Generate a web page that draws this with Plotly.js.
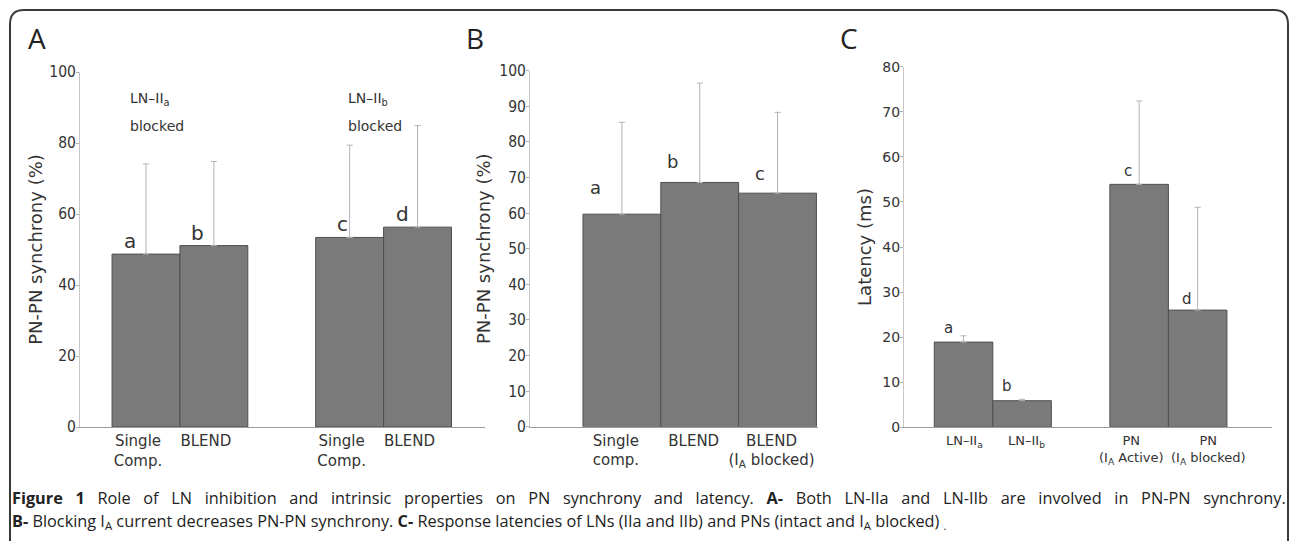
<!DOCTYPE html>
<html><head><meta charset="utf-8">
<script src="https://cdn.plot.ly/plotly-3.0.1.min.js"></script>
<style>html,body{margin:0;padding:0;background:#fff}#chart{width:1290px;height:541px}</style>
</head><body><div id="chart"></div>
<script>
// ---------- data ----------
// Panel A
const aLabels = ["Single<br>Comp.", "BLEND", "Single<br>Comp.", "BLEND"];
const aValues = [48.7, 51.1, 53.4, 56.3];
const aErrors = [25.4, 23.7, 26.0, 28.6];
const aLetters = ["a", "b", "c", "d"];
const aGroupNames = ["LN\u2013II<sub>a</sub>", "LN\u2013II<sub>b</sub>"];
const aGroupNote = "blocked";
const aTitle = "PN-PN synchrony (%)";
// Panel B
const bLabels = ["Single<br>comp.", "BLEND", "BLEND<br>(I<sub>A</sub> blocked)"];
const bValues = [59.7, 68.6, 65.6];
const bErrors = [25.8, 27.9, 22.7];
const bLetters = ["a", "b", "c"];
const bTitle = "PN-PN synchrony (%)";
// Panel C
const cLabels = ["LN\u2013II<sub>a</sub>", "LN\u2013II<sub>b</sub>", "PN<br>(I<sub>A</sub> Active)", "PN<br>(I<sub>A</sub> blocked)"];
const cValues = [18.9, 5.9, 53.9, 26.0];
const cErrors = [1.4, 0.3, 18.5, 22.8];
const cLetters = ["a", "b", "c", "d"];
const cTitle = "Latency (ms)";
// caption
const panelNames = ["A", "B", "C"];
const captionLine1 = "<b>Figure 1</b> Role of LN inhibition and intrinsic properties on PN synchrony and latency. <b>A-</b> Both LN-IIa and LN-IIb are involved in PN-PN synchrony.";
const captionLine2 = "<b>B-</b> Blocking I<sub>A</sub> current decreases PN-PN synchrony. <b>C-</b> Response latencies of LNs (IIa and IIb) and PNs (intact and I<sub>A</sub> blocked) <sub>.</sub>";

// ---------- layout helpers ----------
const W = 1290, H = 541;
const px = v => v / W;
const py = v => 1 - v / H;
// two groups of two bars separated by one empty slot
const pairPositions = n => Array.from({length: n}, (_, i) => i + 1 + (i >= 2 ? 1 : 0));
const seqPositions = n => Array.from({length: n}, (_, i) => i + 1);

const aPos = pairPositions(aValues.length);
const bPos = seqPositions(bValues.length);
const cPos = pairPositions(cValues.length);

const FONT = "DejaVu Sans, sans-serif";
const TICKFONT = "DejaVu Sans Condensed, DejaVu Sans, sans-serif";
const CAPFONT = "Open Sans, sans-serif";
const TXT = "#333";
const BAR = "#7a7a7a", EDGE = "#4f4f4f", ERR = "#b3b3b3";

function barTrace(x, y, err, xa, ya) {
  return {
    type: "bar", x: x, y: y, width: 1, xaxis: xa, yaxis: ya,
    marker: {color: BAR, line: {color: EDGE, width: 1}},
    error_y: {type: "data", symmetric: false, array: err, arrayminus: err.map(() => 0),
              color: ERR, thickness: 1, width: 3},
    hoverinfo: "skip", showlegend: false
  };
}

const data = [
  barTrace(aPos, aValues, aErrors, "x", "y"),
  barTrace(bPos, bValues, bErrors, "x2", "y2"),
  barTrace(cPos, cValues, cErrors, "x3", "y3")
];

function xAxis(domain, range, pos, labels, anchor, size, shift) {
  return {
    domain: domain, range: range, anchor: anchor,
    showline: true, linecolor: "#9c9c9c", linewidth: 1,
    showgrid: false, zeroline: false, ticks: "", tickangle: 0,
    tickvals: pos, ticktext: labels, ticklabelshift: shift,
    showticklabels: labels !== null,
    tickfont: {family: FONT, size: size, color: TXT}, fixedrange: true
  };
}
function yAxis(domain, range, dtick, anchor, title, size, standoff, fam) {
  return {
    domain: domain, range: range, dtick: dtick, anchor: anchor,
    showline: true, linecolor: "#c6c6c6", linewidth: 1,
    showgrid: false, zeroline: false,
    ticks: "outside", ticklen: 3, tickcolor: "#b0b0b0", ticklabelstandoff: -3,
    tickfont: {family: fam, size: size, color: TXT},
    title: {text: title, font: {family: FONT, size: 18, color: TXT}, standoff: standoff},
    fixedrange: true
  };
}

const annotations = [];
// bar letters
function letters(list, pos, vals, xa, ya, xs, ys, size) {
  list.forEach((t, i) => annotations.push({
    text: t, xref: xa, yref: ya, x: pos[i], y: vals[i], xanchor: "center", yanchor: "bottom",
    xshift: xs[i], yshift: ys[i], showarrow: false, font: {family: FONT, size: size, color: TXT}
  }));
}
letters(aLetters, aPos, aValues, "x", "y", [-16, -16, -7, -15], [-1, -1, -1, -1], 20);
letters(bLetters, bPos, bValues, "x2", "y2", [-26, -27, -18], [14, 8, 7], 18);
letters(cLetters, cPos, cValues, "x3", "y3", [-15, -15, -11, -11], [3, 4, 2, 0], 15);

// category labels of panel C (spread like the reference)
const cLabelShift = [1, 4, -8, 11];
cLabels.forEach((t, i) => annotations.push({
  text: t, xref: "x3", yref: "y3", x: cPos[i], y: 0, xanchor: "center", yanchor: "top",
  xshift: cLabelShift[i], yshift: -4, showarrow: false,
  font: {family: FONT, size: 13, color: TXT}
}));

// group notes in panel A
[[aPos[0], -18], [aPos[2], -4]].forEach((g, k) => {
  annotations.push({text: aGroupNames[k], xref: "x", yref: "y", x: g[0], y: 95.5, xanchor: "left", yanchor: "top",
    xshift: g[1], showarrow: false, font: {family: FONT, size: 14, color: TXT}});
  annotations.push({text: aGroupNote, xref: "x", yref: "y", x: g[0], y: 87.5, xanchor: "left", yanchor: "top",
    xshift: g[1], showarrow: false, font: {family: FONT, size: 14, color: TXT}});
});

// panel letters
[[37, panelNames[0]], [475, panelNames[1]], [849, panelNames[2]]].forEach(p => annotations.push({
  text: p[1], xref: "paper", yref: "paper", x: px(p[0]), y: py(38), xanchor: "center", yanchor: "middle",
  showarrow: false, font: {family: CAPFONT, size: 28, color: "#222"}
}));

// caption (first line is justified in the reference: widen the word gaps)
const justified = captionLine1.replace(/ (?![^<]*>)/g, " \u00a0\u00a0");
annotations.push({text: justified, xref: "paper", yref: "paper", x: px(10), y: py(498),
  xanchor: "left", yanchor: "middle", showarrow: false, font: {family: CAPFONT, size: 16.3, color: "#222"}});
annotations.push({text: captionLine2, xref: "paper", yref: "paper", x: px(10), y: py(521),
  xanchor: "left", yanchor: "middle", showarrow: false, font: {family: CAPFONT, size: 16.3, color: "#222"}});

// frame with rounded top corners
const r = 14, L = 10, T = 10, R = 1288, B = 560;
const framePath =
  "M" + px(L) + "," + py(B) +
  " L" + px(L) + "," + py(T + r) +
  " Q" + px(L) + "," + py(T) + " " + px(L + r) + "," + py(T) +
  " L" + px(R - r) + "," + py(T) +
  " Q" + px(R) + "," + py(T) + " " + px(R) + "," + py(T + r) +
  " L" + px(R) + "," + py(B);

const layout = {
  width: W, height: H, margin: {l: 0, r: 0, t: 0, b: 0},
  paper_bgcolor: "#fff", plot_bgcolor: "rgba(0,0,0,0)",
  showlegend: false, bargap: 0,
  font: {family: FONT, color: TXT},
  xaxis: xAxis([px(80), px(485)], [0.028, 5.994], aPos, aLabels, "y", 15, -8),
  yaxis: yAxis([py(427), py(72)], [0, 100], 20, "x", aTitle, 15.5, 1, TICKFONT),
  xaxis2: xAxis([px(530), px(818)], [-0.181, 3.52], bPos, bLabels, "y2", 15, -6),
  yaxis2: yAxis([py(426.7), py(70.7)], [0, 100], 10, "x2", bTitle, 15.5, 3, TICKFONT),
  xaxis3: xAxis([px(904), px(1272)], [-0.017, 6.27], cPos, null, "y3", 13, 0),
  yaxis3: yAxis([py(427.3), py(66.7)], [0, 80], 10, "x3", cTitle, 14, 6, FONT),
  annotations: annotations,
  shapes: [{type: "path", xref: "paper", yref: "paper", path: framePath,
            line: {color: "#3a3a3a", width: 2}, fillcolor: "rgba(0,0,0,0)"}]
};

Plotly.newPlot("chart", data, layout, {staticPlot: true, displayModeBar: false});
</script>
</body></html>
